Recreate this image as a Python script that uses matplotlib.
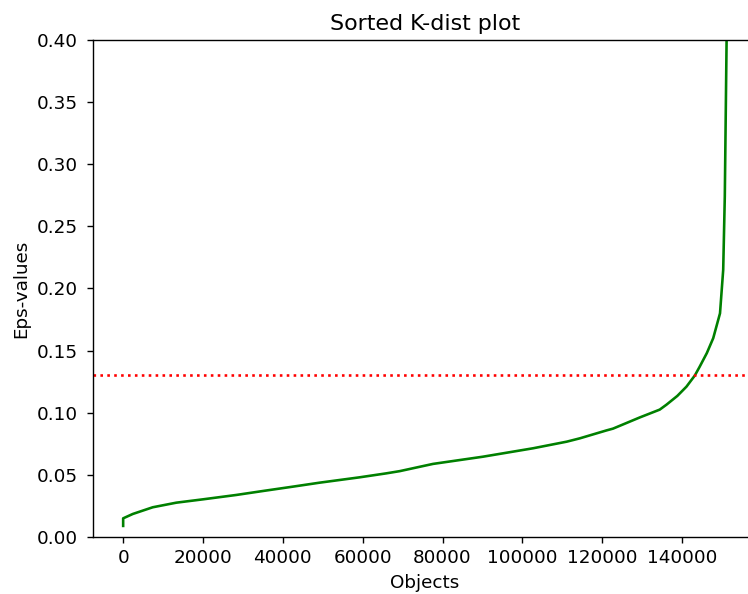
import matplotlib
matplotlib.use("Agg")
import matplotlib.pyplot as plt

# sorted k-distance values
objects = [0, 0, 2400, 7400, 13300, 20000, 28300, 35000, 42500, 49200,
           59200, 65900, 69300, 74300, 77600, 90100, 102700, 111100, 114400,
           121100, 122700, 129400, 134400, 136100, 138800, 141100, 143200,
           144400, 146200, 147800, 149500, 150300, 150700, 151150, 151200]
eps_values = [0.0089, 0.015, 0.0185, 0.0239, 0.0276, 0.0303, 0.0338, 0.0370,
              0.0405, 0.0437, 0.0480, 0.0512, 0.0530, 0.0565, 0.0588, 0.0646,
              0.0714, 0.0767, 0.0794, 0.0858, 0.0872, 0.0962, 0.1025, 0.1065,
              0.1135, 0.121, 0.130, 0.137, 0.148, 0.160, 0.180, 0.215, 0.274,
              0.40, 0.55]
eps_threshold = 0.13

plt.rcParams["font.size"] = 10.6

fig = plt.figure(figsize=(5.984, 4.752), dpi=125)
# the reference is cropped on the right, so the axes run past the figure edge
ax = fig.add_axes([0.1243, 0.096, 0.8877, 0.8367])
ax.plot(objects, eps_values, color="g")
ax.axhline(y=eps_threshold, color="r", linestyle=":")
ax.set_ylim(0, 0.40)
ax.set_yticks([0.0, 0.05, 0.10, 0.15, 0.20, 0.25, 0.30, 0.35, 0.40])
ax.set_yticklabels(["0.00", "0.05", "0.10", "0.15", "0.20", "0.25", "0.30", "0.35", "0.40"])
ax.tick_params(axis="y", pad=5)
ax.set_title("Sorted K-dist plot")
ax.set_xlabel("Objects")
ax.set_ylabel("Eps-values")

fig.savefig("out.png", dpi=125)
